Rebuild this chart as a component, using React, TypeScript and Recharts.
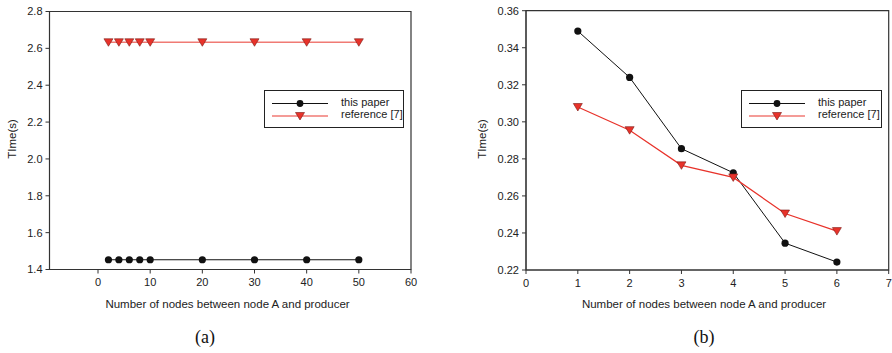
import React from "react";
import {
  LineChart,
  Line,
  XAxis,
  YAxis,
  ReferenceArea,
} from "recharts";

// panel (a)
const nodesA = [2, 4, 6, 8, 10, 20, 30, 40, 50];
const thisPaperA = [1.453, 1.453, 1.453, 1.453, 1.453, 1.453, 1.453, 1.453, 1.453];
const referenceA = [2.633, 2.633, 2.633, 2.633, 2.633, 2.633, 2.633, 2.633, 2.633];
const xTicksA = [0, 10, 20, 30, 40, 50, 60];
const yTicksA = [1.4, 1.6, 1.8, 2.0, 2.2, 2.4, 2.6, 2.8];

// panel (b)
const nodesB = [1, 2, 3, 4, 5, 6];
const thisPaperB = [0.349, 0.324, 0.2855, 0.2725, 0.2345, 0.2243];
const referenceB = [0.308, 0.2955, 0.2765, 0.27, 0.2505, 0.241];
const xTicksB = [0, 1, 2, 3, 4, 5, 6, 7];
const yTicksB = [0.22, 0.24, 0.26, 0.28, 0.3, 0.32, 0.34, 0.36];

const FONT = "'Liberation Sans', Arial, sans-serif";
const AXIS = "#333";
const RED = "#e8322a";

const tickStyle = { fontSize: 11, fill: "#222", fontFamily: FONT };

const Tri = (props: any) => {
  const { cx, cy, index } = props;
  if (cx == null || cy == null) return null;
  return (
    <path
      key={index}
      d={`M${cx - 4.5},${cy - 3.5} L${cx + 4.5},${cy - 3.5} L${cx},${cy + 4} Z`}
      fill={RED}
      stroke="#7a1a14"
      strokeWidth={0.6}
    />
  );
};

const Dot = (props: any) => {
  const { cx, cy, index } = props;
  if (cx == null || cy == null) return null;
  return <circle key={index} cx={cx} cy={cy} r={3.6} fill="#111" />;
};

function LegendBox({ left, top, width }: { left: number; top: number; width: number }) {
  return (
    <div
      style={{
        position: "absolute",
        left,
        top,
        width,
        height: 38,
        border: "1.3px solid #222",
        boxSizing: "border-box",
        background: "#fff",
        fontFamily: FONT,
        fontSize: 11,
        color: "#222",
      }}
    >
      <svg width={width} height={38} style={{ position: "absolute", left: 0, top: 0 }}>
        <line x1={7} x2={63} y1={12.5} y2={12.5} stroke="#111" strokeWidth={1} />
        <circle cx={35} cy={12.5} r={3.4} fill="#111" />
        <line x1={7} x2={63} y1={25} y2={25} stroke="#f07a74" strokeWidth={1.5} />
        <path d="M30.5,21.5 L39.5,21.5 L35,29 Z" fill={RED} stroke="#7a1a14" strokeWidth={0.6} />
      </svg>
      <div style={{ position: "absolute", left: 76, top: 5, lineHeight: "12px" }}>this paper</div>
      <div style={{ position: "absolute", left: 76, top: 17, lineHeight: "12px" }}>reference [7]</div>
    </div>
  );
}

function AxisTitles({ xCenter, yLabelX, caption, captionX }: { xCenter: number; yLabelX: number; caption: string; captionX: number }) {
  return (
    <>
      <div
        style={{
          position: "absolute",
          left: xCenter - 150,
          width: 300,
          top: 298,
          textAlign: "center",
          fontFamily: FONT,
          fontSize: 11.5,
          color: "#222",
        }}
      >
        Number of nodes between node A and producer
      </div>
      <div
        style={{
          position: "absolute",
          left: yLabelX - 40,
          top: 133,
          width: 80,
          textAlign: "center",
          transform: "rotate(-90deg)",
          fontFamily: FONT,
          fontSize: 11.5,
          color: "#222",
        }}
      >
        TIme(s)
      </div>
      <div
        style={{
          position: "absolute",
          left: captionX - 30,
          width: 60,
          top: 327,
          textAlign: "center",
          fontFamily: "'Liberation Serif', 'Times New Roman', serif",
          fontSize: 18,
          color: "#111",
        }}
      >
        {caption}
      </div>
    </>
  );
}

export default function App() {
  const dataA = nodesA.map((n, i) => ({ n, a: thisPaperA[i], b: referenceA[i] }));
  const dataB = nodesB.map((n, i) => ({ n, a: thisPaperB[i], b: referenceB[i] }));

  return (
    <div style={{ position: "absolute", left: 0, top: 0, width: 892, height: 353, background: "#fff" }}>
      {/* (a) */}
      <div style={{ position: "absolute", left: 0, top: 0 }}>
        <LineChart width={446} height={300} data={dataA} margin={{ top: 11.5, right: 35, left: 0, bottom: 0.5 }}>
          <ReferenceArea x1={-9.3} x2={60} y1={1.4} y2={2.8} fill="none" stroke={AXIS} strokeWidth={1.2} ifOverflow="visible" />
          <XAxis
            dataKey="n"
            type="number"
            domain={[-9.3, 60]}
            ticks={xTicksA}
            allowDataOverflow
            height={30}
            tickSize={4}
            tickMargin={5}
            stroke={AXIS}
            tick={tickStyle}
            interval={0}
          />
          <YAxis
            type="number"
            domain={[1.4, 2.8]}
            ticks={yTicksA}
            width={49.5}
            tickSize={4}
            tickMargin={3}
            stroke={AXIS}
            tick={tickStyle}
            tickFormatter={(v: number) => v.toFixed(1)}
            interval={0}
          />
          <Line dataKey="a" stroke="#111" strokeWidth={1.2} dot={Dot} isAnimationActive={false} />
          <Line dataKey="b" stroke="#f07a74" strokeWidth={1.6} dot={Tri} isAnimationActive={false} />
        </LineChart>
        <LegendBox left={264} top={90} width={140} />
        <AxisTitles xCenter={227.5} yLabelX={12} caption="(a)" captionX={205} />
      </div>

      {/* (b) */}
      <div style={{ position: "absolute", left: 446, top: 0, width: 446, height: 353 }}>
        <LineChart width={446} height={300} data={dataB} margin={{ top: 10.7, right: 3.3, left: 0, bottom: 0 }}>
          <ReferenceArea x1={0} x2={7} y1={0.22} y2={0.36} fill="none" stroke={AXIS} strokeWidth={1.2} ifOverflow="visible" />
          <XAxis
            dataKey="n"
            type="number"
            domain={[0, 7]}
            ticks={xTicksB}
            height={30}
            tickSize={4}
            tickMargin={5}
            stroke={AXIS}
            tick={tickStyle}
            interval={0}
          />
          <YAxis
            type="number"
            domain={[0.22, 0.36]}
            ticks={yTicksB}
            width={80}
            tickSize={4}
            tickMargin={3}
            stroke={AXIS}
            tick={tickStyle}
            tickFormatter={(v: number) => v.toFixed(2)}
            interval={0}
          />
          <Line dataKey="a" stroke="#111" strokeWidth={1} dot={Dot} isAnimationActive={false} />
          <Line dataKey="b" stroke={RED} strokeWidth={1.2} dot={Tri} isAnimationActive={false} />
        </LineChart>
        <LegendBox left={295} top={90} width={141} />
        <AxisTitles xCenter={258} yLabelX={36} caption="(b)" captionX={258} />
      </div>
    </div>
  );
}
